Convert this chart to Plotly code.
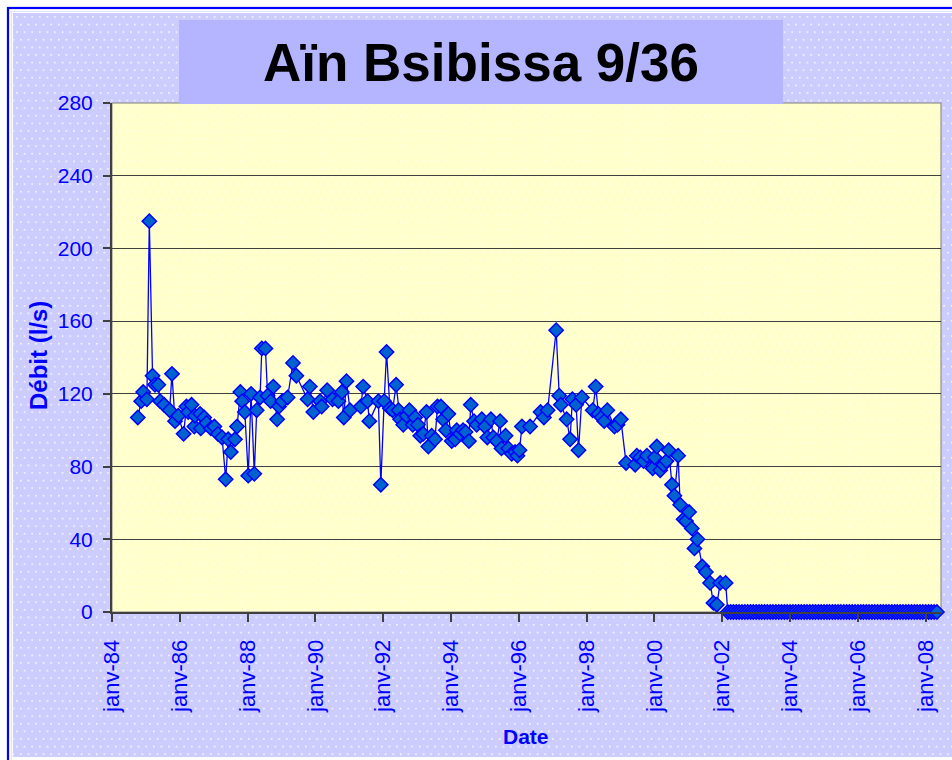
import base64
import plotly.graph_objects as go

# ---------------- data ----------------
measure_dates = [
    "1984-10-05", "1984-11-10", "1984-12-02", "1985-01-11", "1985-02-06", "1985-03-13",
    "1985-04-08", "1985-05-14", "1985-06-02", "1985-07-15", "1985-09-13", "1985-10-08",
    "1985-11-10", "1985-12-16", "1986-02-10", "1986-03-13", "1986-04-01", "1986-05-07",
    "1986-06-06", "1986-06-13", "1986-08-07", "1986-08-14", "1986-09-20", "1986-10-15",
    "1986-12-02", "1987-01-08", "1987-02-14", "1987-04-01", "1987-05-10", "1987-06-06",
    "1987-07-04", "1987-08-18", "1987-09-09", "1987-10-15", "1987-11-03", "1987-12-02",
    "1988-01-08", "1988-02-07", "1988-03-13", "1988-04-08", "1988-05-14", "1988-06-02",
    "1988-07-11", "1988-08-03", "1988-09-05", "1988-10-04", "1988-11-14", "1988-12-05",
    "1989-01-08", "1989-03-07", "1989-05-04", "1989-06-09", "1989-10-08", "1989-11-01",
    "1989-12-09", "1990-02-20", "1990-03-09", "1990-05-07", "1990-07-04", "1990-09-05",
    "1990-10-12", "1990-11-02", "1990-12-01", "1991-01-08", "1991-05-04", "1991-05-30",
    "1991-07-16", "1991-08-04", "1991-11-10", "1991-12-06", "1992-01-11", "1992-02-06",
    "1992-03-13", "1992-04-11", "1992-05-19", "1992-06-14", "1992-07-01", "1992-08-04",
    "1992-09-09", "1992-10-09", "1992-11-14", "1992-12-10", "1993-01-08", "1993-02-03",
    "1993-03-06", "1993-04-11", "1993-05-01", "1993-06-06", "1993-07-12", "1993-08-07",
    "1993-09-13", "1993-10-08", "1993-11-06", "1993-12-02", "1994-01-08", "1994-02-14",
    "1994-03-03", "1994-04-07", "1994-05-10", "1994-06-06", "1994-07-12", "1994-08-01",
    "1994-09-05", "1994-10-04", "1994-11-28", "1995-01-01", "1995-01-26", "1995-03-06",
    "1995-04-01", "1995-05-08", "1995-06-13", "1995-06-28", "1995-08-11", "1995-09-10",
    "1995-10-16", "1995-11-22", "1995-12-17", "1996-01-08", "1996-02-03", "1996-05-01",
    "1996-08-22", "1996-09-27", "1996-11-06", "1997-02-06", "1997-03-11", "1997-03-29",
    "1997-05-30", "1997-07-06", "1997-07-31", "1997-09-09", "1997-10-05", "1997-11-10",
    "1998-03-07", "1998-04-08", "1998-05-08", "1998-06-10", "1998-07-09", "1998-08-11",
    "1998-10-27", "1998-11-29", "1999-01-04", "1999-03-01", "1999-06-07", "1999-06-25",
    "1999-08-01", "1999-09-06", "1999-10-12", "1999-12-13", "2000-01-04", "2000-01-26",
    "2000-03-03", "2000-04-08", "2000-05-08", "2000-06-02", "2000-07-08", "2000-08-03",
    "2000-09-12", "2000-10-04", "2000-11-10", "2000-12-05", "2001-01-08", "2001-02-06",
    "2001-03-07", "2001-04-08", "2001-05-30", "2001-07-08", "2001-08-22", "2001-09-27",
    "2001-11-03", "2001-12-09", "2002-02-06",
]
measure_values = [
    107, 116, 121, 117, 215, 130,
    125, 125, 116, 114, 111, 131,
    105, 108, 98, 113, 110, 114,
    102, 108, 109, 101, 107, 104,
    101, 102, 98, 96, 73, 95,
    88, 95, 102, 121, 116, 110,
    75, 120, 76, 111, 118, 145,
    145, 119, 116, 124, 106, 113,
    116, 118, 137, 130, 117, 124,
    110, 116, 113, 122, 117, 116,
    121, 107, 127, 111, 113, 124,
    116, 105, 116, 70, 116, 143,
    112, 111, 125, 111, 106, 103,
    108, 111, 103, 107, 103, 97,
    98, 110, 91, 97, 95, 113,
    113, 106, 100, 109, 94, 95,
    100, 98, 100, 99, 94, 114,
    105, 103, 106, 102, 96, 106,
    96, 94, 105, 90, 97, 90,
    87, 88, 86, 89, 102, 102,
    110, 107, 111, 155, 119, 114,
    106, 95, 117, 114, 89, 118,
    111, 124, 109, 107, 105, 111,
    102, 103, 106, 82, 81, 86,
    85, 83, 86, 79, 85, 91,
    78, 81, 83, 89, 70, 64,
    86, 59, 51, 50, 55, 46,
    35, 40, 25, 22, 16, 5,
    4, 16, 16,
]

# dry spring: monthly readings of 0 l/s from March 2002 to May 2008
dry_dates = [
    "2002-03", "2002-04", "2002-05", "2002-06", "2002-07", "2002-08", "2002-09", "2002-10", "2002-11", "2002-12",
    "2003-01", "2003-02", "2003-03", "2003-04", "2003-05", "2003-06", "2003-07", "2003-08", "2003-09", "2003-10", "2003-11", "2003-12",
    "2004-01", "2004-02", "2004-03", "2004-04", "2004-05", "2004-06", "2004-07", "2004-08", "2004-09", "2004-10", "2004-11", "2004-12",
    "2005-01", "2005-02", "2005-03", "2005-04", "2005-05", "2005-06", "2005-07", "2005-08", "2005-09", "2005-10", "2005-11", "2005-12",
    "2006-01", "2006-02", "2006-03", "2006-04", "2006-05", "2006-06", "2006-07", "2006-08", "2006-09", "2006-10", "2006-11", "2006-12",
    "2007-01", "2007-02", "2007-03", "2007-04", "2007-05", "2007-06", "2007-07", "2007-08", "2007-09", "2007-10", "2007-11", "2007-12",
    "2008-01", "2008-02", "2008-03", "2008-04", "2008-05",
]
dry_values = [
    0, 0, 0, 0, 0, 0, 0, 0, 0, 0,
    0, 0, 0, 0, 0, 0, 0, 0, 0, 0, 0, 0,
    0, 0, 0, 0, 0, 0, 0, 0, 0, 0, 0, 0,
    0, 0, 0, 0, 0, 0, 0, 0, 0, 0, 0, 0,
    0, 0, 0, 0, 0, 0, 0, 0, 0, 0, 0, 0,
    0, 0, 0, 0, 0, 0, 0, 0, 0, 0, 0, 0,
    0, 0, 0, 0, 0,
]

y_ticks = [0, 40, 80, 120, 160, 200, 240, 280]
x_tick_dates = ["1984-01-01", "1986-01-01", "1988-01-01", "1990-01-01", "1992-01-01",
                "1994-01-01", "1996-01-01", "1998-01-01", "2000-01-01", "2002-01-01",
                "2004-01-01", "2006-01-01", "2008-01-01"]
x_tick_labels = ["janv-84", "janv-86", "janv-88", "janv-90", "janv-92", "janv-94",
                 "janv-96", "janv-98", "janv-00", "janv-02", "janv-04", "janv-06", "janv-08"]

title_text = "Aïn Bsibissa 9/36"
y_title = "Débit (l/s)"
x_title = "Date"

# ---------------- layout geometry ----------------
W, H = 952, 760
PL, PR, PT, PB = 112, 941, 103, 612   # plot area in pixels
PW, PH = PR - PL, PB - PT


def px_x(px):
    return (px - PL) / PW


def px_y(py):
    return (PB - py) / PH


FONT = "Arial, 'Liberation Sans', sans-serif"
BLUE = "#0000FF"

# decorative background: blue frame, dotted lavender chart area, dotted yellow plot area, title box
svg = f'''<svg xmlns="http://www.w3.org/2000/svg" width="{W}" height="{H}" viewBox="0 0 {W} {H}" preserveAspectRatio="none">
<defs>
<pattern id="pl" x="0" y="0" width="7.6" height="15.2" patternUnits="userSpaceOnUse">
<rect width="7.6" height="15.2" fill="#CCCCFF"/>
<rect x="1" y="1" width="1.5" height="1.5" fill="#FFFFFF"/>
<rect x="4.8" y="8.6" width="1.5" height="1.5" fill="#FFFFFF"/>
</pattern>
<pattern id="py" x="0" y="0" width="7.6" height="15.2" patternUnits="userSpaceOnUse">
<rect width="7.6" height="15.2" fill="#FFFFCC"/>
<rect x="1" y="1" width="1.5" height="1.5" fill="#FFFFFF" opacity="0.85"/>
<rect x="4.8" y="8.6" width="1.5" height="1.5" fill="#FFFFFF" opacity="0.85"/>
</pattern>
</defs>
<rect x="0" y="0" width="{W}" height="{H}" fill="#FFFFFF"/>
<rect x="8" y="8" width="1000" height="800" fill="none" stroke="#0000FF" stroke-width="2.2"/>
<rect x="11.5" y="11.5" width="1000" height="800" fill="none" stroke="#E0E0FF" stroke-width="1"/>
<rect x="13" y="13" width="1000" height="744" fill="url(#pl)"/>
<rect x="{PL}" y="{PT}" width="{PW}" height="{PH}" fill="url(#py)" stroke="#808080" stroke-width="1"/>
<rect x="179" y="20" width="604" height="84" fill="#B4B4FF"/>
</svg>'''
svg_uri = "data:image/svg+xml;base64," + base64.b64encode(svg.encode("utf-8")).decode("ascii")

fig = go.Figure()
fig.add_trace(go.Scatter(
    x=measure_dates + dry_dates,
    y=measure_values + dry_values,
    mode="lines+markers",
    line=dict(color=BLUE, width=1.3),
    marker=dict(symbol="diamond", size=11, color="#0062CC",
                line=dict(color=BLUE, width=1.5)),
    cliponaxis=False,
    showlegend=False,
))

fig.update_layout(
    width=W, height=H, autosize=False,
    margin=dict(l=PL, r=W - PR, t=PT, b=H - PB, pad=0),
    paper_bgcolor="#FFFFFF",
    plot_bgcolor="rgba(0,0,0,0)",
    font=dict(family=FONT, color=BLUE),
    images=[dict(source=svg_uri, xref="paper", yref="paper",
                 x=px_x(0), y=px_y(0), sizex=W / PW, sizey=H / PH,
                 xanchor="left", yanchor="top", sizing="stretch", layer="below")],
    xaxis=dict(
        type="date", range=["1984-01-01", "2008-06-14"],
        tickmode="array", tickvals=x_tick_dates, ticktext=x_tick_labels,
        tickangle=-90, tickfont=dict(family=FONT, size=22, color=BLUE),
        ticklabelstandoff=9,
        showgrid=False, zeroline=False,
        showline=True, linecolor="#404040", linewidth=2,
        ticks="outside", ticklen=8, tickwidth=1.5, tickcolor="#404040",
        fixedrange=True,
    ),
    yaxis=dict(
        range=[0, 280], tickmode="array", tickvals=y_ticks,
        ticktext=[str(v) for v in y_ticks],
        tickfont=dict(family=FONT, size=21, color=BLUE),
        ticklabelstandoff=6,
        showgrid=True, gridcolor="#404040", gridwidth=1, zeroline=False,
        showline=True, linecolor="#404040", linewidth=2,
        ticks="outside", ticklen=7, tickwidth=1.5, tickcolor="#404040",
        fixedrange=True,
    ),
    annotations=[
        dict(text=f"<b>{title_text}</b>", xref="paper", yref="paper",
             x=px_x(481), y=px_y(62), xanchor="center", yanchor="middle",
             showarrow=False, font=dict(family=FONT, size=53, color="#000000")),
        dict(text=f"<b>{y_title}</b>", xref="paper", yref="paper",
             x=px_x(38), y=px_y(356), xanchor="center", yanchor="middle",
             textangle=-90, showarrow=False,
             font=dict(family=FONT, size=24, color=BLUE)),
        dict(text=f"<b>{x_title}</b>", xref="paper", yref="paper",
             x=px_x(526), y=px_y(737), xanchor="center", yanchor="middle",
             showarrow=False, font=dict(family=FONT, size=21, color=BLUE)),
    ],
)

fig.write_html("out.html", config={"displayModeBar": False},
               post_script="document.body.style.margin='0';")
